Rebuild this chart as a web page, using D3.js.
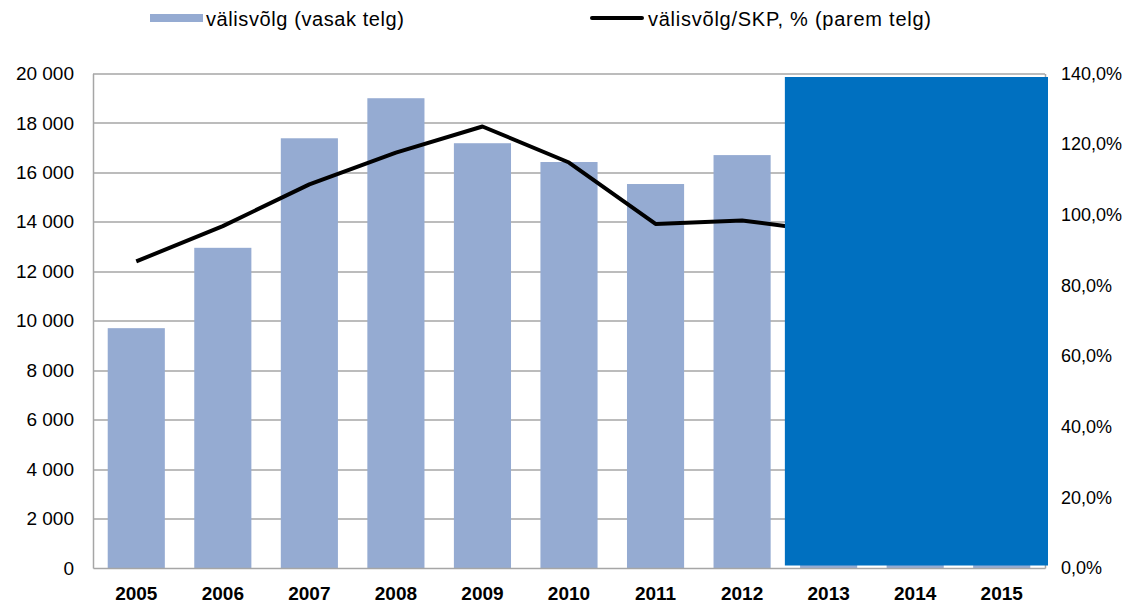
<!DOCTYPE html>
<html>
<head>
<meta charset="utf-8">
<script src="https://cdn.jsdelivr.net/npm/d3@7"></script>
<style>
  body { margin: 0; background: #fff; }
  svg text { font-family: "Liberation Sans", Arial, sans-serif; }
</style>
</head>
<body>
<div id="chart"></div>
<script>
// data
var years = ["2005", "2006", "2007", "2008", "2009", "2010", "2011", "2012", "2013", "2014", "2015"];
var debt = [9700, 12950, 17380, 19000, 17180, 16420, 15530, 16700, 17000, 17300, 17600];
var debtToGdp = [86.8, 96.8, 108.6, 117.6, 125.0, 114.8, 97.4, 98.4, 95.2, 93.5, 91.0];
var leftTicks = [0, 2000, 4000, 6000, 8000, 10000, 12000, 14000, 16000, 18000, 20000];
var rightTicks = [0, 20, 40, 60, 80, 100, 120, 140];
var legendLabels = ["välisvõlg (vasak telg)", "välisvõlg/SKP, % (parem telg)"];

var width = 1134;
var height = 605;
var margin = { top: 73.5, right: 89, bottom: 37, left: 93 };
var plotW = width - margin.left - margin.right;
var plotH = height - margin.top - margin.bottom;

var barColor = "#95abd2";
var coverColor = "#0070c0";
var gridColor = "#a6a6a6";

var svg = d3.select("#chart").append("svg")
    .attr("width", width)
    .attr("height", height);

var g = svg.append("g")
    .attr("transform", "translate(" + margin.left + "," + margin.top + ")");

var x = d3.scaleBand()
    .domain(years)
    .range([0, plotW])
    .paddingInner(0.34)
    .paddingOuter(0.17);

var yLeft = d3.scaleLinear().domain([0, 20000]).range([plotH, 0]);
var yRight = d3.scaleLinear().domain([0, 140]).range([plotH, 0]);

var fmtLeft = function (d) {
    return d3.format(",")(d).replace(/,/g, " ");
};
var fmtRight = function (d) {
    return d3.format(".1f")(d).replace(".", ",") + "%";
};

// gridlines
g.append("g")
    .selectAll("line")
    .data(leftTicks.slice(1))
    .enter()
    .append("line")
    .attr("x1", 0)
    .attr("x2", plotW)
    .attr("y1", function (d) { return Math.round(yLeft(d)) + 0.5; })
    .attr("y2", function (d) { return Math.round(yLeft(d)) + 0.5; })
    .attr("stroke", gridColor)
    .attr("stroke-width", 1.5);

// bars
g.selectAll(".bar")
    .data(debt)
    .enter()
    .append("rect")
    .attr("class", "bar")
    .attr("x", function (d, i) { return x(years[i]); })
    .attr("y", function (d) { return yLeft(d); })
    .attr("width", x.bandwidth())
    .attr("height", function (d) { return plotH - yLeft(d); })
    .attr("fill", barColor);

// line
var line = d3.line()
    .x(function (d, i) { return x(years[i]) + x.bandwidth() / 2; })
    .y(function (d) { return yRight(d); });

g.append("path")
    .datum(debtToGdp)
    .attr("d", line)
    .attr("fill", "none")
    .attr("stroke", "#000")
    .attr("stroke-width", 4)
    .attr("stroke-linejoin", "round");

// left axis
var leftAxis = d3.axisLeft(yLeft)
    .tickValues(leftTicks)
    .tickFormat(fmtLeft)
    .tickSize(0)
    .tickPadding(19);
var la = g.append("g").call(leftAxis);
la.select(".domain").attr("stroke", gridColor).attr("stroke-width", 1.5);
la.selectAll("text").attr("font-size", 19).attr("fill", "#000")
    .style("font-family", "'Liberation Sans', Arial, sans-serif");

// right axis
var rightAxis = d3.axisRight(yRight)
    .tickValues(rightTicks)
    .tickFormat(fmtRight)
    .tickSize(0)
    .tickPadding(16);
var ra = g.append("g")
    .attr("transform", "translate(" + plotW + ",0)")
    .call(rightAxis);
ra.select(".domain").attr("stroke", gridColor).attr("stroke-width", 1.5);
ra.selectAll("text").attr("font-size", 18).attr("fill", "#000")
    .style("font-family", "'Liberation Sans', Arial, sans-serif");

// bottom axis
var bottomAxis = d3.axisBottom(x).tickSize(0).tickPadding(19);
var ba = g.append("g")
    .attr("transform", "translate(0," + plotH + ")")
    .call(bottomAxis);
ba.select(".domain").attr("stroke", gridColor).attr("stroke-width", 1.5);
ba.selectAll("text").attr("font-size", 19).attr("font-weight", "bold").attr("fill", "#000")
    .style("font-family", "'Liberation Sans', Arial, sans-serif");

// blue box covering the forecast years
var coverX0 = x("2013") - (x.step() - x.bandwidth()) / 2 - 0.5;
g.append("rect")
    .attr("x", coverX0)
    .attr("y", 3.5)
    .attr("width", plotW + 3 - coverX0)
    .attr("height", plotH - 6)
    .attr("fill", coverColor);

// legend
var legend = svg.append("g");
legend.append("rect")
    .attr("x", 150)
    .attr("y", 14)
    .attr("width", 53)
    .attr("height", 8)
    .attr("fill", barColor);
legend.append("text")
    .attr("x", 206)
    .attr("y", 26)
    .attr("font-size", 20)
    .attr("textLength", 198)
    .text(legendLabels[0]);
legend.append("line")
    .attr("x1", 592)
    .attr("x2", 642)
    .attr("y1", 18)
    .attr("y2", 18)
    .attr("stroke", "#000")
    .attr("stroke-width", 4)
    .attr("stroke-linecap", "round");
legend.append("text")
    .attr("x", 648)
    .attr("y", 26)
    .attr("font-size", 20)
    .attr("textLength", 283)
    .text(legendLabels[1]);
</script>
</body>
</html>
